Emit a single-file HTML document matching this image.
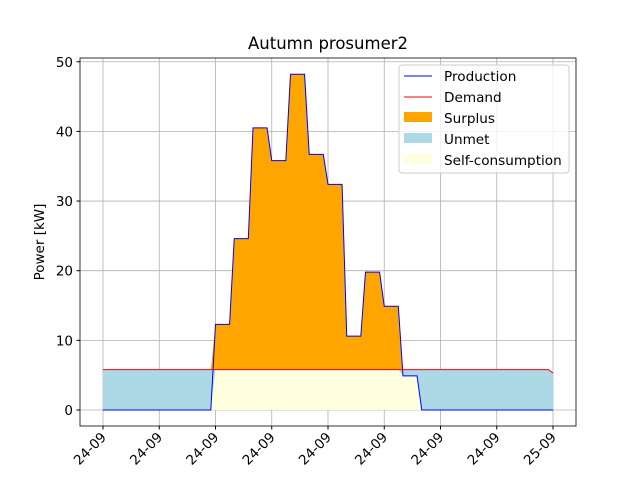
<!DOCTYPE html>
<html><head><meta charset="utf-8"><style>
body{margin:0;background:#fff;}
svg{font-family:"DejaVu Sans","Liberation Sans",sans-serif;}
</style></head><body>
<svg id="chart" width="640" height="480" viewBox="0 0 640 480" xmlns="http://www.w3.org/2000/svg">
<rect width="640" height="480" fill="#fff"/>
<text x="328" y="49" font-size="16.5" text-anchor="middle">Autumn prosumer2</text>
<g id="grid"></g>
<g id="areas"></g>
<g id="lines"></g>
<rect x="80" y="58" width="496" height="368" fill="none" stroke="#000" stroke-width="0.8"/>
<g id="yticks"></g>
<g id="xticks"></g>
<text transform="translate(44,242) rotate(-90)" font-size="13.5" text-anchor="middle">Power [kW]</text>
<g>
<rect x="399" y="65" width="170" height="108" rx="3" fill="#fff" fill-opacity="0.8" stroke="#ccc"/>
<g><line x1="404" x2="432" y1="76" y2="76" stroke="#0000ff" stroke-width="1"/><text x="444" y="81" font-size="13.6">Production</text></g>
<g><line x1="404" x2="432" y1="97" y2="97" stroke="#ff0000" stroke-width="1"/><text x="444" y="102" font-size="13.6">Demand</text></g>
<g><rect x="404" y="112" width="28" height="10" fill="#ffa500"/><text x="444" y="123" font-size="13.6">Surplus</text></g>
<g><rect x="404" y="133" width="28" height="10" fill="#add8e6"/><text x="444" y="144" font-size="13.6">Unmet</text></g>
<g><rect x="404" y="154" width="28" height="10" fill="#ffffe0"/><text x="444" y="165" font-size="13.6">Self-consumption</text></g>
</g>
</svg>
<script>
const hourlyProduction=[0,0,0,0,0,0,12.3,24.6,40.5,35.8,48.2,36.7,32.4,10.6,19.8,14.9,4.9,0,0,0,0,0,0,0];
const hourlyDemand=[5.8,5.8,5.8,5.8,5.8,5.8,5.8,5.8,5.8,5.8,5.8,5.8,5.8,5.8,5.8,5.8,5.8,5.8,5.8,5.8,5.8,5.8,5.8,5.8];
const endProduction=0, endDemand=5.3;
const yTicks=[0,10,20,30,40,50];
const xTickHours=[0,3,6,9,12,15,18,21,24];
const xTickLabels=["24-09","24-09","24-09","24-09","24-09","24-09","24-09","24-09","25-09"];
const NS="http://www.w3.org/2000/svg";
const X=h=>103+h*18.75, Y=v=>410-v*6.965;
function mk(tag,attrs,parent){const e=document.createElementNS(NS,tag);for(const k in attrs)e.setAttribute(k,attrs[k]);parent.appendChild(e);return e;}
const grid=document.getElementById('grid'),areas=document.getElementById('areas'),lines=document.getElementById('lines'),yt=document.getElementById('yticks'),xt=document.getElementById('xticks');
const t=[],p=[],d=[];
hourlyProduction.forEach((v,h)=>{for(let q=0;q<4;q++){t.push(h+q/4);p.push(v);d.push(hourlyDemand[h]);}});
t.push(24);p.push(endProduction);d.push(endDemand);
yTicks.forEach(v=>{
 const l=mk('line',{x1:80,x2:576,y1:Y(v),y2:Y(v),stroke:'#b0b0b0','stroke-width':0.8},grid);
 
 mk('line',{x1:76.5,x2:80,y1:Y(v),y2:Y(v),stroke:'#000'},yt);
 const tx=mk('text',{x:73,y:Y(v)+5,'font-size':13.5,'text-anchor':'end'},yt);tx.textContent=v;
 
});
xTickHours.forEach((h,i)=>{
 const l=mk('line',{x1:X(h),x2:X(h),y1:58,y2:426,stroke:'#b0b0b0','stroke-width':0.8},grid);
 
 mk('line',{x1:X(h),x2:X(h),y1:426,y2:429.5,stroke:'#000'},xt);
 const tx=mk('text',{transform:`translate(${X(h)+4},${438}) rotate(-45)`,'font-size':13.5,'text-anchor':'end'},xt);tx.textContent=xTickLabels[i];
 
});
function poly(top,bot,fill,name){
 let s=t.map((h,i)=>X(h)+','+Y(top[i])).join(' ');
 s+=' '+t.map((h,i)=>X(h)+','+Y(bot[i])).reverse().join(' ');
 const e=mk('polygon',{points:s,fill:fill},areas);
 
}
const mn=p.map((v,i)=>Math.min(v,d[i])),mx=p.map((v,i)=>Math.max(v,d[i])),zero=p.map(()=>0);
poly(mx,d,'#ffa500','surplus-area');
poly(d,mn,'#add8e6','unmet-area');
poly(mn,zero,'#ffffe0','self-consumption-area');
function line(arr,c,name){const e=mk('polyline',{points:t.map((h,i)=>X(h)+','+Y(arr[i])).join(' '),fill:'none',stroke:c,'stroke-width':1},lines);
 }
line(p,'#0000ff','production-line');
line(d,'#ff0000','demand-line');
</script>
</body></html>
